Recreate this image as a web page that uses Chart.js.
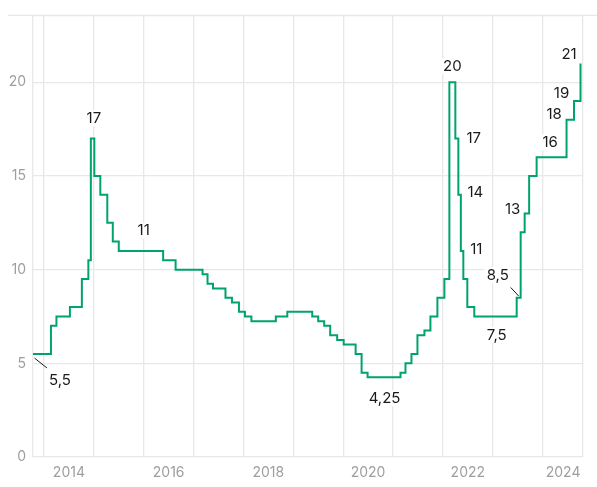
<!DOCTYPE html>
<html>
<head>
<meta charset="utf-8">
<script src="https://cdn.jsdelivr.net/npm/chart.js@4.4.0/dist/chart.umd.min.js"></script>
<style>
html,body{margin:0;padding:0;background:#fff;}
#wrap{width:597px;height:487px;position:relative;}
</style>
</head>
<body>
<div id="wrap"><canvas id="rateChart"></canvas></div>
<script>
(function(){
'use strict';

// dates of each step
const stepDates = [2013.78, 2014.14, 2014.25, 2014.52, 2014.76, 2014.89, 2014.94, 2015.01, 2015.13, 2015.27,
  2015.38, 2015.50, 2016.39, 2016.64, 2017.18, 2017.28, 2017.39, 2017.64, 2017.77, 2017.91,
  2018.03, 2018.16, 2018.65, 2018.88, 2019.38, 2019.50, 2019.62, 2019.74, 2019.88, 2020.01,
  2020.25, 2020.37, 2020.49, 2021.15, 2021.25, 2021.37, 2021.49, 2021.63, 2021.75, 2021.89,
  2022.03, 2022.13, 2022.25, 2022.31, 2022.36, 2022.41, 2022.49, 2022.63, 2023.48, 2023.56,
  2023.64, 2023.73, 2023.88, 2024.48, 2024.63, 2024.76];
const rateValues = [5.5, 7, 7.5, 8, 9.5, 10.5, 17, 15, 14, 12.5,
  11.5, 11, 10.5, 10, 9.75, 9.25, 9, 8.5, 8.25, 7.75,
  7.5, 7.25, 7.5, 7.75, 7.5, 7.25, 7, 6.5, 6.25, 6,
  5.5, 4.5, 4.25, 4.5, 5, 5.5, 6.5, 6.75, 7.5, 8.5,
  9.5, 20, 17, 14, 11, 9.5, 8, 7.5, 8.5, 12,
  13, 15, 16, 18, 19, 21];

const yearLines = [2014, 2015, 2016, 2017, 2018, 2019, 2020, 2021, 2022, 2023, 2024];
const yearLabels = ['2014', '2016', '2018', '2020', '2022', '2024'];
const yearLabelAt = [2014.5, 2016.5, 2018.5, 2020.5, 2022.5, 2024.41];
const yTicks = [0, 5, 10, 15, 20];

// value notes on the line
const noteTexts = ['5,5', '17', '11', '4,25', '20', '17', '14', '11', '8,5', '7,5', '13', '16', '18', '19', '21'];
const noteAtX = [2014.32, 2015.00, 2016.00, 2020.83, 2022.19, 2022.62, 2022.65, 2022.67, 2023.10, 2023.08, 2023.40, 2024.15, 2024.23, 2024.38, 2024.53];
const noteAtY = [4.06, 18.08, 12.07, 3.14, 20.85, 17.0, 14.14, 11.09, 9.71, 6.51, 13.22, 16.81, 18.28, 19.38, 21.51];
const leaders = [[2013.81, 5.28, 2014.06, 4.75], [2023.36, 9.05, 2023.52, 8.59]];

const xMin = 2013.78, xMax = 2024.81, yMax = 23.57;
const GRID = '#e8e8e8';
const GREEN = '#00a36c';
const FONT = 'Inter, "Noto Sans", sans-serif';

const notesPlugin = {
  id: 'notes',
  afterDraw(chart){
    const { ctx, chartArea, scales: { x, y } } = chart;
    ctx.save();
    ctx.strokeStyle = GRID; ctx.lineWidth = 1.3;
    ctx.beginPath(); ctx.moveTo(8, chartArea.top); ctx.lineTo(chart.width, chartArea.top); ctx.stroke();

    ctx.strokeStyle = '#1a1a1a'; ctx.lineWidth = 1;
    leaders.forEach(l => {
      ctx.beginPath();
      ctx.moveTo(x.getPixelForValue(l[0]), y.getPixelForValue(l[1]));
      ctx.lineTo(x.getPixelForValue(l[2]), y.getPixelForValue(l[3]));
      ctx.stroke();
    });

    ctx.font = '15px ' + FONT;
    ctx.textAlign = 'center'; ctx.textBaseline = 'middle';
    noteTexts.forEach((t, i) => {
      const px = x.getPixelForValue(noteAtX[i]);
      const py = y.getPixelForValue(noteAtY[i]);
      const w = ctx.measureText(t).width;
      ctx.fillStyle = '#fff';
      ctx.fillRect(px - w/2 - 2, py - 8, w + 4, 16);
      ctx.fillStyle = '#1a1a1a';
      ctx.fillText(t, px, py);
    });
    ctx.restore();
  }
};

const ctx = document.getElementById('rateChart').getContext('2d');
new Chart(ctx, {
  type: 'line',
  data: {
    datasets: [{
      data: stepDates.map((d, i) => ({ x: d, y: rateValues[i] })),
      stepped: true,
      borderColor: GREEN,
      borderWidth: 2,
      pointRadius: 0,
      fill: false
    }]
  },
  options: {
    responsive: true,
    maintainAspectRatio: false,
    animation: false,
    layout: { padding: { top: 15, right: 14, left: 0, bottom: 0 } },
    plugins: { legend: { display: false }, tooltip: { enabled: false } },
    scales: {
      x: {
        type: 'linear', min: xMin, max: xMax,
        afterBuildTicks: s => {
          s.ticks = [xMin, ...yearLines, xMax, ...yearLabelAt].sort((a, b) => a - b).map(v => ({ value: v }));
        },
        afterFit: s => { s.height = 30; },
        border: { display: false },
        grid: {
          drawTicks: false, lineWidth: 1.3,
          color: c => (c.tick && yearLabelAt.includes(c.tick.value)) ? 'rgba(0,0,0,0)' : GRID
        },
        ticks: {
          autoSkip: false, maxRotation: 0, padding: 7,
          color: '#9e9e9e', font: { family: FONT, size: 14 },
          callback: v => { const k = yearLabelAt.indexOf(v); return k >= 0 ? yearLabels[k] : ''; }
        }
      },
      y: {
        min: 0, max: yMax,
        afterBuildTicks: s => { s.ticks = [...yTicks, yMax].map(v => ({ value: v })); },
        afterFit: s => { s.width = 33; },
        border: { display: false },
        grid: { drawTicks: false, lineWidth: 1.3, color: GRID },
        ticks: {
          padding: 7, color: '#9e9e9e', font: { family: FONT, size: 14 },
          callback: v => yTicks.includes(v) ? String(v) : ''
        }
      }
    }
  },
  plugins: [notesPlugin]
});

})();
</script>
</body>
</html>
